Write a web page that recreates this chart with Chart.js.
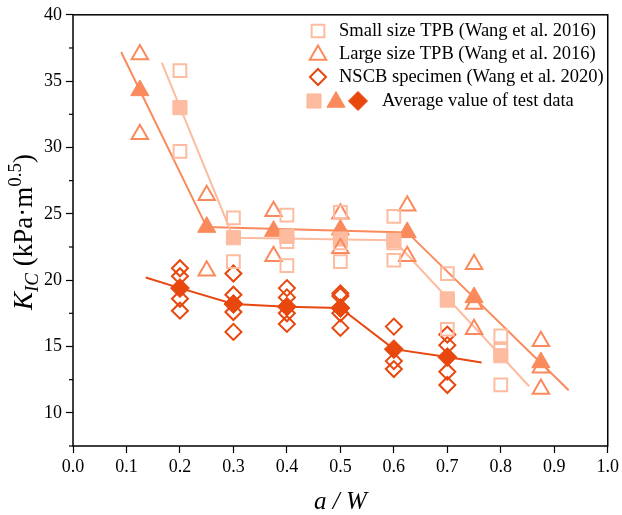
<!DOCTYPE html>
<html>
<head>
<meta charset="utf-8">
<script src="https://cdn.jsdelivr.net/npm/chart.js@4.4.1/dist/chart.umd.min.js"></script>
<style>
  html, body { margin: 0; padding: 0; background: #fff; }
</style>
</head>
<body>
<canvas id="chart" width="622" height="515"></canvas>
<script>
// small size TPB (Wang et al. 2016)
const smallX = [0.2, 0.2, 0.3, 0.3, 0.4, 0.4, 0.4, 0.5, 0.5, 0.5, 0.6, 0.6, 0.6, 0.7, 0.7, 0.7, 0.8, 0.8, 0.8];
const smallK = [35.8, 29.7, 24.7, 21.4, 24.9, 22.9, 21.1, 25.1, 22.8, 21.4, 24.8, 22.8, 21.5, 20.5, 18.6, 16.3, 15.8, 14.7, 12.1];
const smallAvgX = [0.2, 0.3, 0.4, 0.5, 0.6, 0.7, 0.8];
const smallAvgK = [33.0, 23.2, 23.3, 23.1, 23.0, 18.5, 14.3];
const smallFitX = [0.166, 0.3, 0.6, 0.853];
const smallFitK = [36.4, 23.2, 23.0, 12.0];

// large size TPB (Wang et al. 2016)
const largeX = [0.125, 0.125, 0.25, 0.25, 0.375, 0.375, 0.5, 0.5, 0.625, 0.625, 0.75, 0.75, 0.75, 0.875, 0.875, 0.875];
const largeK = [37.0, 31.0, 26.4, 20.7, 25.2, 21.8, 25.0, 22.4, 25.6, 21.8, 21.2, 18.2, 16.3, 15.4, 13.4, 11.8];
const largeAvgX = [0.125, 0.25, 0.375, 0.5, 0.625, 0.75, 0.875];
const largeAvgK = [34.3, 24.0, 23.7, 23.8, 23.6, 18.7, 13.8];
const largeFitX = [0.09, 0.25, 0.625, 0.927];
const largeFitK = [37.2, 24.0, 23.6, 11.7];

// NSCB specimen (Wang et al. 2020)
const nscbX = [0.2, 0.2, 0.2, 0.2, 0.3, 0.3, 0.3, 0.3, 0.4, 0.4, 0.4, 0.4, 0.5, 0.5, 0.5, 0.5, 0.6, 0.6, 0.6, 0.7, 0.7, 0.7, 0.7];
const nscbK = [20.9, 20.3, 18.6, 17.7, 20.5, 18.9, 17.6, 16.1, 19.4, 18.7, 17.5, 16.7, 19.0, 18.8, 17.5, 16.4, 16.5, 13.9, 13.3, 15.9, 15.1, 13.1, 12.1];
const nscbAvgX = [0.2, 0.3, 0.4, 0.5, 0.6, 0.7];
const nscbAvgK = [19.4, 18.2, 18.0, 17.9, 14.8, 14.2];
const nscbFitX = [0.136, 0.2, 0.3, 0.4, 0.5, 0.6, 0.7, 0.764];
const nscbFitK = [20.2, 19.4, 18.2, 18.0, 17.9, 14.8, 14.2, 13.8];

const legendLabels = [
  "Small size TPB (Wang et al. 2016)",
  "Large size TPB (Wang et al. 2016)",
  "NSCB specimen (Wang et al. 2020)",
  "Average value of test data"
];

const cSmall = "#fdbb9f";
const cLarge = "#fa8a5c";
const cNscb = "#e8470e";
const serif = '"Liberation Serif", "Times New Roman", serif';

const pts = (xs, ys) => xs.map((x, i) => ({ x: x, y: ys[i] }));

function fitLine(xs, ys, color, order) {
  return {
    data: pts(xs, ys), showLine: true, borderColor: color, borderWidth: 2,
    pointRadius: 0, fill: false, order: order
  };
}
function openPts(xs, ys, color, style, r, order) {
  return {
    data: pts(xs, ys), showLine: false, pointStyle: style, pointRadius: r,
    pointBorderColor: color, pointBackgroundColor: "rgba(255,255,255,0)",
    pointBorderWidth: 2, order: order
  };
}
function avgPts(xs, ys, color, style, r, order) {
  return {
    data: pts(xs, ys), showLine: false, pointStyle: style, pointRadius: r,
    pointBorderColor: color, pointBackgroundColor: color,
    pointBorderWidth: 1, order: order
  };
}

// same shapes as chart.js point styles, for the legend
function marker(ctx, style, x, y, r, color, filled) {
  ctx.save();
  ctx.beginPath();
  if (style === "rect") {
    const s = Math.SQRT1_2 * r;
    ctx.rect(x - s, y - s, 2 * s, 2 * s);
  } else if (style === "triangle") {
    let a = 0;
    ctx.moveTo(x + Math.sin(a) * r, y - Math.cos(a) * r);
    a += 2 * Math.PI / 3;
    ctx.lineTo(x + Math.sin(a) * r, y - Math.cos(a) * r);
    a += 2 * Math.PI / 3;
    ctx.lineTo(x + Math.sin(a) * r, y - Math.cos(a) * r);
  } else {
    ctx.moveTo(x - r, y);
    ctx.lineTo(x, y - r);
    ctx.lineTo(x + r, y);
    ctx.lineTo(x, y + r);
  }
  ctx.closePath();
  if (filled) { ctx.fillStyle = color; ctx.fill(); }
  ctx.strokeStyle = color;
  ctx.lineWidth = filled ? 1 : 2;
  ctx.stroke();
  ctx.restore();
}

const decor = {
  id: "decor",
  afterDraw(chart) {
    const ctx = chart.ctx;
    const a = chart.chartArea;
    const ys = chart.scales.y;

    // frame
    ctx.save();
    ctx.strokeStyle = "#000";
    ctx.lineWidth = 1.5;
    ctx.strokeRect(a.left, a.top, a.right - a.left, a.bottom - a.top);

    // minor y ticks
    ctx.lineWidth = 1.2;
    ys.ticks.forEach(t => {
      if (t.value % 5 !== 0) {
        const py = ys.getPixelForValue(t.value);
        ctx.beginPath();
        ctx.moveTo(a.left - 4, py);
        ctx.lineTo(a.left, py);
        ctx.stroke();
      }
    });

    // x title
    ctx.fillStyle = "#000";
    ctx.font = "italic 25px " + serif;
    ctx.textAlign = "center";
    ctx.textBaseline = "alphabetic";
    ctx.fillText("a / W", (a.left + a.right) / 2, 509);

    // y title with sub/superscript
    ctx.translate(32, 232);
    ctx.rotate(-Math.PI / 2);
    const parts = [
      { t: "K", f: "italic 27px ", dy: 0 },
      { t: "IC", f: "italic 19px ", dy: 6 },
      { t: " (kPa\u00b7m", f: "27px ", dy: 0 },
      { t: "0.5", f: "19px ", dy: -11 },
      { t: ")", f: "27px ", dy: 0 }
    ];
    let total = 0;
    parts.forEach(p => { ctx.font = p.f + serif; p.w = ctx.measureText(p.t).width; total += p.w; });
    let px = -total / 2;
    ctx.textAlign = "left";
    parts.forEach(p => {
      ctx.font = p.f + serif;
      ctx.fillText(p.t, px, p.dy);
      px += p.w;
    });
    ctx.restore();

    // legend
    ctx.save();
    ctx.font = "18.5px " + serif;
    ctx.fillStyle = "#000";
    ctx.textBaseline = "middle";
    ctx.textAlign = "left";
    const rows = [31, 54, 77, 101];
    marker(ctx, "rect", 318, rows[0], 9, cSmall, false);
    marker(ctx, "triangle", 318, rows[1] + 1, 9.5, cLarge, false);
    marker(ctx, "rectRot", 318, rows[2], 8, cNscb, false);
    marker(ctx, "rect", 314, rows[3], 10, cSmall, true);
    marker(ctx, "triangle", 336, rows[3] + 1, 10.5, cLarge, true);
    marker(ctx, "rectRot", 358, rows[3], 9.5, cNscb, true);
    ctx.fillText(legendLabels[0], 339, rows[0]);
    ctx.fillText(legendLabels[1], 339, rows[1]);
    ctx.fillText(legendLabels[2], 339, rows[2]);
    ctx.fillText(legendLabels[3], 382, rows[3]);
    ctx.restore();
  }
};

new Chart(document.getElementById("chart"), {
  type: "scatter",
  data: {
    datasets: [
      openPts(smallX, smallK, cSmall, "rect", 9, 1),
      openPts(largeX, largeK, cLarge, "triangle", 9.5, 2),
      openPts(nscbX, nscbK, cNscb, "rectRot", 8, 3),
      avgPts(smallAvgX, smallAvgK, cSmall, "rect", 10, 4),
      avgPts(largeAvgX, largeAvgK, cLarge, "triangle", 10.5, 5),
      avgPts(nscbAvgX, nscbAvgK, cNscb, "rectRot", 9.5, 6),
      fitLine(smallFitX, smallFitK, cSmall, 7),
      fitLine(largeFitX, largeFitK, cLarge, 8),
      fitLine(nscbFitX, nscbFitK, cNscb, 9)
    ]
  },
  options: {
    responsive: false,
    animation: false,
    devicePixelRatio: 1,
    layout: { padding: { left: 0, right: 13, top: 14, bottom: 0 } },
    plugins: { legend: { display: false }, tooltip: { enabled: false } },
    scales: {
      x: {
        type: "linear", min: 0, max: 1,
        afterFit: s => { s.height = 69; },
        border: { display: false },
        grid: { drawOnChartArea: false, tickLength: 7, tickColor: "#000", tickWidth: 1.2 },
        ticks: {
          stepSize: 0.1, padding: 3, color: "#000",
          font: { family: serif, size: 18 },
          callback: v => v.toFixed(1)
        }
      },
      y: {
        type: "linear", min: 7.5, max: 40,
        afterFit: s => { s.width = 73; },
        border: { display: false },
        grid: {
          drawOnChartArea: false, tickLength: 7, tickWidth: 1.2,
          tickColor: c => (c.tick && c.tick.value % 5 === 0) ? "#000" : "rgba(0,0,0,0)"
        },
        ticks: {
          stepSize: 2.5, padding: 4, color: "#000",
          font: { family: serif, size: 18 },
          callback: v => (v % 5 === 0 && v >= 10) ? String(v) : ""
        }
      }
    }
  },
  plugins: [decor]
});
</script>
</body>
</html>
